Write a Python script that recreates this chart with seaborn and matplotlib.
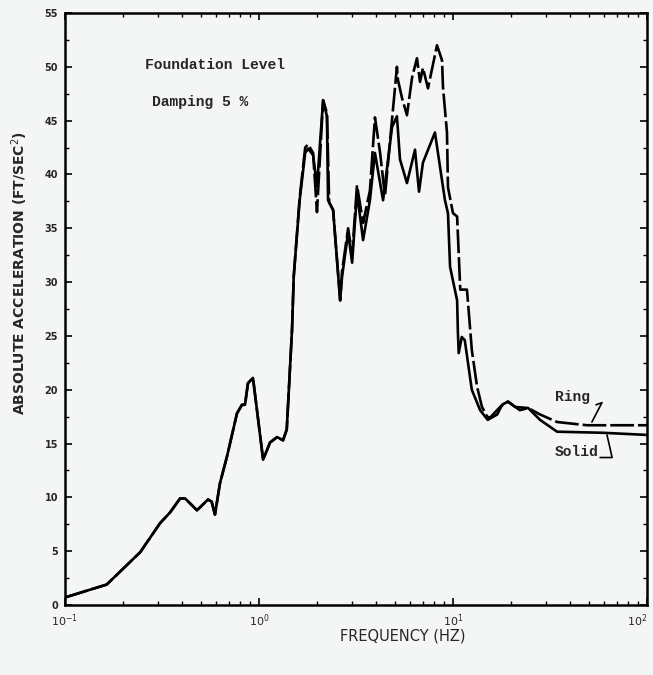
import matplotlib
matplotlib.use("Agg")
import matplotlib.pyplot as plt
import numpy as np
import pandas as pd
import seaborn as sns
from matplotlib.ticker import LogLocator, MultipleLocator, NullFormatter

# response spectrum (frequency in Hz, acceleration in ft/sec^2)
shared_freq = [0.100, 0.164, 0.244, 0.309, 0.348, 0.392, 0.416, 0.479, 0.546, 0.570,
               0.593, 0.629, 0.684, 0.770, 0.817, 0.847, 0.877, 0.931, 1.05, 1.14,
               1.24, 1.33, 1.39, 1.48, 1.51]
shared_acc = [0.7, 1.9, 4.9, 7.6, 8.6, 9.9, 9.9, 8.8, 9.8, 9.6,
              8.4, 11.3, 13.8, 17.8, 18.6, 18.6, 20.6, 21.1, 13.5, 15.1,
              15.6, 15.3, 16.3, 25.6, 30.5]

solid_freq = [1.62, 1.73, 1.79, 1.90, 1.99, 2.14, 2.24, 2.27, 2.41, 2.62,
              2.68, 2.88, 3.02, 3.20, 3.44, 3.73, 3.96, 4.36, 4.85, 5.14,
              5.33, 5.79, 6.37, 6.68, 7.00, 8.07, 9.09, 9.42, 9.66, 10.5,
              10.6, 10.7, 11.1, 11.5, 12.5, 13.8, 15.1, 16.9, 17.9, 19.2,
              20.9, 24.4, 28.1, 34.4, 59.3, 100.0]
solid_acc = [37.6, 42.0, 42.4, 41.8, 38.9, 46.9, 45.4, 37.6, 36.7, 28.3,
             30.5, 34.6, 31.8, 38.3, 33.9, 37.6, 42.0, 37.6, 44.4, 45.4,
             41.4, 39.2, 42.3, 38.4, 41.1, 43.9, 37.6, 36.4, 31.4, 28.3,
             25.3, 23.4, 24.9, 24.6, 20.0, 18.1, 17.2, 17.7, 18.6, 18.9,
             18.4, 18.3, 17.2, 16.1, 16.0, 15.8]

ring_freq = [1.62, 1.73, 1.79, 1.90, 1.99, 2.14, 2.24, 2.30, 2.41, 2.62,
             2.68, 2.88, 3.02, 3.20, 3.44, 3.73, 3.96, 4.21, 4.46, 4.85,
             5.14, 5.20, 5.46, 5.79, 6.15, 6.52, 6.76, 7.00, 7.43, 8.27,
             8.78, 8.88, 9.31, 9.42, 10.0, 10.5, 10.9, 11.8, 12.3, 12.5,
             13.3, 14.1, 15.0, 15.5, 17.5, 19.2, 22.1, 24.4, 28.1, 34.4,
             49.1, 100.0]
ring_acc = [37.8, 42.5, 42.8, 42.0, 36.5, 46.9, 45.7, 37.4, 36.7, 28.3,
            31.0, 35.0, 32.5, 39.0, 35.5, 38.5, 45.3, 42.0, 38.0, 45.1,
            50.0, 48.8, 47.1, 45.5, 49.0, 50.8, 48.6, 49.9, 48.0, 52.0,
            50.6, 48.1, 43.9, 38.8, 36.4, 36.1, 29.3, 29.3, 25.3, 23.7,
            20.3, 18.4, 17.5, 17.4, 18.4, 18.9, 18.1, 18.3, 17.7, 17.0,
            16.7, 16.7]

y_ticks = [0, 5, 10, 15, 20, 25, 30, 35, 40, 45, 50, 55]
x_ticks = [0.1, 1, 10, 100]
x_ticklabels = ["$10^{-1}$", "$10^{0}$", "$10^{1}$", "$10^{2}$"]

df = pd.concat([
    pd.DataFrame({"freq": shared_freq + solid_freq, "acc": shared_acc + solid_acc, "case": "Solid"}),
    pd.DataFrame({"freq": shared_freq + ring_freq, "acc": shared_acc + ring_acc, "case": "Ring"}),
])

sns.set_style("ticks")
bg = "#f4f6f5"
fig = plt.figure(figsize=(6.53, 6.75), dpi=100, facecolor=bg)
ax = fig.add_axes([65 / 653, 1 - 605 / 675, 582 / 653, 592 / 675])
ax.set_facecolor(bg)

sns.lineplot(data=df[df["case"] == "Solid"], x="freq", y="acc", color="black",
             linewidth=1.9, sort=False, estimator=None, ax=ax)
sns.lineplot(data=df[df["case"] == "Ring"], x="freq", y="acc", color="black",
             linewidth=1.9, sort=False, estimator=None, ax=ax)
ax.lines[-1].set_dashes([9, 1.5])

ax.set_xscale("log")
ax.set_xlim(0.1, 100)
ax.set_ylim(0, 55)
ax.set_xlabel("")
ax.set_ylabel("")

ax.set_yticks(y_ticks)
ax.set_yticklabels([str(v) for v in y_ticks], fontsize=7, fontweight="bold")
ax.yaxis.set_minor_locator(MultipleLocator(2.5))
ax.set_xticks(x_ticks)
ax.set_xticklabels(x_ticklabels, fontsize=8, fontweight="bold")
ax.get_xticklabels()[-1].set_ha("right")
ax.xaxis.set_minor_locator(LogLocator(base=10, subs=np.arange(2, 10), numticks=20))
ax.xaxis.set_minor_formatter(NullFormatter())
ax.tick_params(which="both", direction="in", top=True, right=True, color="black")
ax.tick_params(which="major", length=5, width=1.2, pad=5)
ax.tick_params(which="minor", length=3, width=1.0)
for s in ax.spines.values():
    s.set_linewidth(1.8)
    s.set_color("black")

mono = "Liberation Mono"
ax.text(0.258, 50.2, "Foundation Level", fontsize=10.5, fontweight="bold",
        family=mono, va="center", ha="left")
ax.text(0.28, 46.7, "Damping 5 %", fontsize=10.5, fontweight="bold",
        family=mono, va="center", ha="left")

ax.text(33.6, 19.3, "Ring", fontsize=10.5, fontweight="bold", family=mono,
        va="center", ha="left")
ax.plot([54.6, 58.6, 52.0], [18.6, 18.8, 17.0], color="black", lw=1.2)
ax.text(33.6, 14.2, "Solid", fontsize=10.5, fontweight="bold", family=mono,
        va="center", ha="left")
ax.plot([57.3, 66.1, 62.2], [13.7, 13.7, 15.8], color="black", lw=1.2)

fig.text(20 / 653, 1 - 273 / 675, "ABSOLUTE ACCELERATION (FT/SEC$^2$)", rotation=90,
         fontsize=10, fontweight="bold", ha="center", va="center")
fig.text(403 / 653, 1 - 636 / 675, "FREQUENCY (HZ)", fontsize=10.5,
         ha="center", va="center")

fig.savefig("out.png", dpi=100, facecolor=bg)
